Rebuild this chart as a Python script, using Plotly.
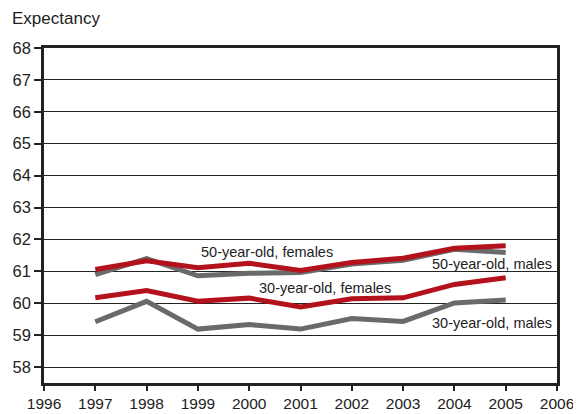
import plotly.graph_objects as go

years = [1997, 1998, 1999, 2000, 2001, 2002, 2003, 2004, 2005]
females_50 = [61.06, 61.33, 61.11, 61.25, 61.03, 61.28, 61.41, 61.72, 61.80]
males_50 = [60.90, 61.40, 60.86, 60.94, 60.96, 61.23, 61.35, 61.69, 61.59]
females_30 = [60.17, 60.40, 60.06, 60.16, 59.88, 60.14, 60.17, 60.59, 60.80]
males_30 = [59.42, 60.06, 59.19, 59.33, 59.19, 59.52, 59.43, 60.01, 60.10]

labels = ["50-year-old, females", "50-year-old, males", "30-year-old, females", "30-year-old, males"]
label_x = [2000.35, 2004.73, 2001.48, 2004.73]
label_y = [61.60, 61.24, 60.48, 59.39]

RED = "#b3121c"
GRAY = "#6a6a6a"
FONT = "Liberation Sans, Arial, sans-serif"

fig = go.Figure()
fig.add_trace(go.Scatter(x=years, y=males_50, mode="lines", line=dict(color=GRAY, width=5)))
fig.add_trace(go.Scatter(x=years, y=females_50, mode="lines", line=dict(color=RED, width=5)))
fig.add_trace(go.Scatter(x=years, y=males_30, mode="lines", line=dict(color=GRAY, width=5)))
fig.add_trace(go.Scatter(x=years, y=females_30, mode="lines", line=dict(color=RED, width=5)))

for t, x, y in zip(labels, label_x, label_y):
    fig.add_annotation(x=x, y=y, xref="x", yref="y", text=t, showarrow=False,
                       font=dict(family=FONT, size=14.5, color="#222222"),
                       xanchor="center", yanchor="middle")

fig.add_annotation(x=-0.066, y=1.0885, xref="paper", yref="paper", text="Expectancy",
                   showarrow=False, xanchor="left", yanchor="middle",
                   font=dict(family=FONT, size=17, color="#222222"))

fig.update_layout(
    width=573, height=406,
    margin=dict(l=36, r=24, t=40, b=31, autoexpand=False),
    paper_bgcolor="white", plot_bgcolor="white",
    showlegend=False,
    font=dict(family=FONT, size=16.5, color="#222222"),
    xaxis=dict(range=[1996, 2006], tickmode="linear", tick0=1996, dtick=1,
               showgrid=False, zeroline=False, automargin=False,
               showline=True, linecolor="#222222", linewidth=2.5, mirror=True,
               ticks="outside", ticklen=5, tickwidth=2, tickcolor="#222222",
               ticklabelstandoff=0,
               tickfont=dict(size=15.5)),
    yaxis=dict(range=[57.5, 68], tickmode="linear", tick0=58, dtick=1,
               showgrid=True, gridcolor="#222222", gridwidth=1, zeroline=False,
               automargin=False,
               showline=True, linecolor="#222222", linewidth=2.5, mirror=True,
               ticks="outside", ticklen=7, tickwidth=2, tickcolor="#222222",
               tickfont=dict(size=16.5)),
)

fig.write_html("out.html")
